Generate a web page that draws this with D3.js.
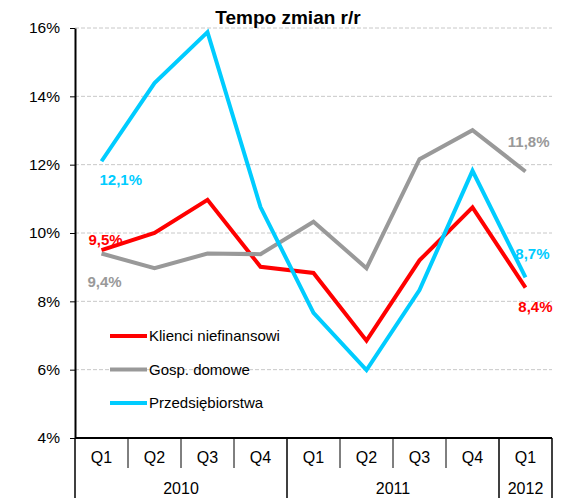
<!DOCTYPE html>
<html>
<head>
<meta charset="utf-8">
<script src="https://cdn.jsdelivr.net/npm/d3@7"></script>
<style>
  body { margin: 0; background: #fff; }
  svg { font-family: "Liberation Sans", Arial, sans-serif; }
</style>
</head>
<body>
<svg id="chart" width="564" height="498"></svg>
<script>
// data
var quarters = ["Q1", "Q2", "Q3", "Q4", "Q1", "Q2", "Q3", "Q4", "Q1"];
var years = [{name: "2010", n: 4}, {name: "2011", n: 4}, {name: "2012", n: 1}];
var klienci = [9.5, 10.0, 10.97, 9.01, 8.83, 6.85, 9.2, 10.75, 8.4];
var gosp = [9.4, 8.97, 9.4, 9.38, 10.33, 8.97, 12.16, 13.01, 11.8];
var przeds = [12.1, 14.39, 15.88, 10.76, 7.66, 5.99, 8.33, 11.82, 8.7];
var yTicks = [4, 6, 8, 10, 12, 14, 16];

var series = [
  {name: "Klienci niefinansowi", values: klienci, c: "#ff0000"},
  {name: "Gosp. domowe", values: gosp, c: "#999999"},
  {name: "Przedsiębiorstwa", values: przeds, c: "#00ccff"}
];

var margin = {top: 28, left: 75, right: 12, bottom: 60};
var width = 564 - margin.left - margin.right,
    height = 498 - margin.top - margin.bottom;

var svg = d3.select("#chart");
var g = svg.append("g").attr("transform", `translate(${margin.left},${margin.top})`);

var xScale = d3.scaleBand()
  .domain(d3.range(quarters.length))
  .range([0, width]);

var yScale = d3.scaleLinear()
  .domain([4, 16])
  .range([height, 0]);

// grid
g.selectAll("line.grid")
  .data(yTicks.filter(d => d > 4))
  .join("line")
    .attr("class", "grid")
    .attr("x1", 0).attr("x2", width)
    .attr("y1", d => yScale(d)).attr("y2", d => yScale(d))
    .attr("stroke", "#c8c8c8")
    .attr("stroke-dasharray", "4,2")
    .attr("stroke-width", 1);

// y axis
var yAxis = g.append("g")
  .call(d3.axisLeft(yScale).tickValues(yTicks).tickFormat(d => d + "%").tickSize(5).tickSizeOuter(0));
yAxis.select(".domain").attr("stroke", "#000").attr("stroke-width", 2);
yAxis.selectAll(".tick line").attr("stroke", "#000").attr("stroke-width", 1);
yAxis.selectAll("text")
  .attr("x", -15)
  .style("font-size", "15.5px")
  .style("fill", "#000")
  .style("font-family", "Liberation Sans, Arial, sans-serif");

// x axis (two level)
var xg = g.append("g").attr("transform", `translate(0,${height})`);
xg.append("line")
  .attr("x1", 0).attr("x2", width)
  .attr("stroke", "#000").attr("stroke-width", 2);

var yearBounds = [0];
years.forEach(y => yearBounds.push(yearBounds[yearBounds.length - 1] + y.n));

d3.range(quarters.length + 1).forEach(function(i) {
  var x = i < quarters.length ? xScale(i) : width;
  var isYear = yearBounds.indexOf(i) >= 0;
  xg.append("line")
    .attr("x1", x).attr("x2", x)
    .attr("y1", 0).attr("y2", isYear ? 60 : 30)
    .attr("stroke", "#000").attr("stroke-width", isYear ? 1.5 : 1);
});

xg.selectAll("text.q")
  .data(quarters)
  .join("text")
    .attr("class", "q")
    .attr("x", (d, i) => xScale(i) + xScale.bandwidth() / 2)
    .attr("y", 25)
    .attr("text-anchor", "middle")
    .style("font-size", "16px")
    .text(d => d);

xg.selectAll("text.yr")
  .data(years)
  .join("text")
    .attr("class", "yr")
    .attr("x", (d, i) => {
      var a = yearBounds[i], b = yearBounds[i + 1];
      return (xScale(a) + (b < quarters.length ? xScale(b) : width)) / 2;
    })
    .attr("y", 56)
    .attr("text-anchor", "middle")
    .style("font-size", "16px")
    .text(d => d.name);

// lines
var line = d3.line()
  .x((d, i) => xScale(i) + xScale.bandwidth() / 2)
  .y(d => yScale(d));

g.selectAll("path.segment")
  .data(series)
  .join("path")
    .attr("class", "segment")
    .attr("fill", "none")
    .attr("stroke", d => d.c)
    .attr("stroke-width", 4)
    .attr("stroke-linejoin", "miter")
    .attr("d", d => line(d.values));

// value labels
var labels = [
  {s: 2, i: 0, dx: -2, dy: 24, anchor: "start"},
  {s: 0, i: 0, dx: -13, dy: -5, anchor: "start"},
  {s: 1, i: 0, dx: -14, dy: 33, anchor: "start"},
  {s: 1, i: 8, dx: 24, dy: -25, anchor: "end"},
  {s: 2, i: 8, dx: 24, dy: -18, anchor: "end"},
  {s: 0, i: 8, dx: 27, dy: 24, anchor: "end"}
];
g.selectAll("text.vlab")
  .data(labels)
  .join("text")
    .attr("class", "vlab")
    .attr("x", d => xScale(d.i) + xScale.bandwidth() / 2 + d.dx)
    .attr("y", d => yScale(series[d.s].values[d.i]) + d.dy)
    .attr("text-anchor", d => d.anchor)
    .style("font-size", "15px")
    .style("font-weight", "bold")
    .style("fill", d => series[d.s].c)
    .text(d => String(series[d.s].values[d.i].toFixed(1)).replace(".", ",") + "%");

// legend
var legendG = g.append("g").attr("transform", "translate(35,308)");
legendG.selectAll("line")
  .data(series)
  .join("line")
    .attr("x1", 0).attr("x2", 37)
    .attr("y1", (d, i) => i * 33.5).attr("y2", (d, i) => i * 33.5)
    .attr("stroke", d => d.c)
    .attr("stroke-width", 4);
legendG.selectAll("text")
  .data(series)
  .join("text")
    .attr("x", 39)
    .attr("y", (d, i) => i * 33.5 + 5)
    .style("font-size", "15px")
    .text(d => d.name);

// title
svg.append("text")
  .attr("x", 288).attr("y", 24)
  .attr("text-anchor", "middle")
  .style("font-size", "19px")
  .style("font-weight", "bold")
  .text("Tempo zmian r/r");
</script>
</body>
</html>
